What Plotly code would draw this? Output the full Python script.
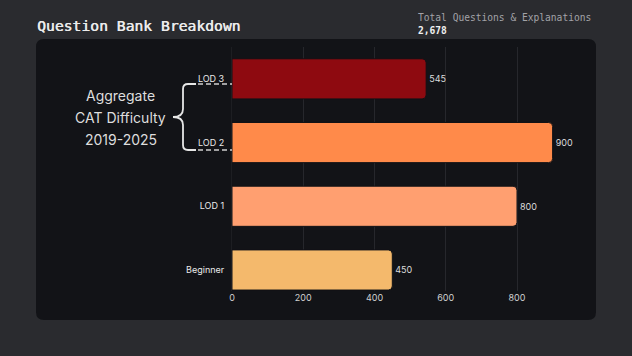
import plotly.graph_objects as go

categories = ["Beginner", "LOD 1", "LOD 2", "LOD 3"]
values = [450, 800, 900, 545]
bar_colors = ["#f4b96c", "#ff9f70", "#ff8a4a", "#8e0a10"]
x_ticks = [0, 200, 400, 600, 800]
title_text = "Question Bank Breakdown"
total_label = "Total Questions & Explanations"
total_value = "2,678"
side_lines = ["Aggregate", "CAT Difficulty", "2019-2025"]

FW, FH = 632, 356
L, R, T, B = 232, 580, 47, 291
W, H = R - L, B - T


def px(x):
    return (x - L) / W


def py(y):
    return (B - y) / H


fig = go.Figure()
fig.add_trace(go.Bar(
    y=categories, x=values, orientation="h",
    marker=dict(color=bar_colors, line=dict(color="#111216", width=1), cornerradius=4),
    width=0.63,
    text=[str(v) for v in values], textposition="outside",
    textfont=dict(family="Inter", size=9, color="#dcdcdc"),
    cliponaxis=False, hoverinfo="skip",
))

shapes = []
# panel
x0, x1, y0, y1, r = 36, 596, 39, 320, 8
panel = (f"M {px(x0+r)},{py(y0)} L {px(x1-r)},{py(y0)} Q {px(x1)},{py(y0)} {px(x1)},{py(y0+r)} "
         f"L {px(x1)},{py(y1-r)} Q {px(x1)},{py(y1)} {px(x1-r)},{py(y1)} "
         f"L {px(x0+r)},{py(y1)} Q {px(x0)},{py(y1)} {px(x0)},{py(y1-r)} "
         f"L {px(x0)},{py(y0+r)} Q {px(x0)},{py(y0)} {px(x0+r)},{py(y0)} Z")
shapes.append(dict(type="path", xref="paper", yref="paper", path=panel,
                   fillcolor="#121317", line=dict(width=0), layer="below"))
# brace
bx, tipx, midx, ytop, ybot, ymid = 183, 196, 173, 84, 150, 117
brace = (f"M {px(tipx)},{py(ytop)} L {px(bx+5)},{py(ytop)} Q {px(bx)},{py(ytop)} {px(bx)},{py(ytop+5)} "
         f"L {px(bx)},{py(ymid-8)} Q {px(bx)},{py(ymid)} {px(midx)},{py(ymid)} "
         f"Q {px(bx)},{py(ymid)} {px(bx)},{py(ymid+8)} "
         f"L {px(bx)},{py(ybot-5)} Q {px(bx)},{py(ybot)} {px(bx+5)},{py(ybot)} L {px(tipx)},{py(ybot)}")
shapes.append(dict(type="path", xref="paper", yref="paper", path=brace,
                   line=dict(color="#e6e6e6", width=1.8), layer="above"))
for yy in (ytop, ybot):
    shapes.append(dict(type="line", xref="paper", yref="paper",
                       x0=px(tipx + 2), x1=px(232), y0=py(yy), y1=py(yy),
                       line=dict(color="#cfcfcf", width=1.5, dash="5px,3px"), layer="above"))

annotations = [
    dict(text=title_text, xref="paper", yref="paper", x=px(35), y=py(25),
         xanchor="left", yanchor="middle", showarrow=False,
         font=dict(family="DejaVu Sans Mono", size=14.7, color="#ececec",
                   shadow="0.5px 0 0 #ececec")),
    dict(text=total_label, xref="paper", yref="paper", x=px(416), y=py(18),
         xanchor="left", yanchor="middle", showarrow=False,
         font=dict(family="DejaVu Sans Mono", size=9.6, color="#a3a3a8")),
    dict(text="<b>" + total_value + "</b>", xref="paper", yref="paper", x=px(416), y=py(31),
         xanchor="left", yanchor="middle", showarrow=False,
         font=dict(family="DejaVu Sans Mono", size=9.6, color="#f0f0f0")),
]
for i, line in enumerate(side_lines):
    annotations.append(dict(text=line, xref="paper", yref="paper", x=px(121), y=py(95 + 22 * i),
                            xanchor="center", yanchor="middle", showarrow=False,
                            font=dict(family="Inter", size=14, color="#dedede")))

fig.update_layout(
    width=FW, height=FH,
    margin=dict(l=L, r=FW - R, t=T, b=FH - B, pad=0),
    paper_bgcolor="#2a2b2f", plot_bgcolor="rgba(0,0,0,0)",
    showlegend=False, shapes=shapes, annotations=annotations,
    xaxis=dict(range=[0, W / 0.35625], tickvals=x_ticks, showgrid=True, gridcolor="#26272c",
               gridwidth=1, zeroline=False, showline=False,
               tickfont=dict(family="Inter", size=9, color="#d0d0d0"), ticks="",
               ticklen=0),
    yaxis=dict(range=[-0.33, 3.5], showgrid=False, zeroline=False, showline=True,
               linecolor="#1d1e22", linewidth=1,
               tickfont=dict(family="Inter", size=9, color="#eaeaea"), ticks="outside",
               ticklen=5, tickcolor="rgba(0,0,0,0)"),
)

fig.write_html("out.html")
